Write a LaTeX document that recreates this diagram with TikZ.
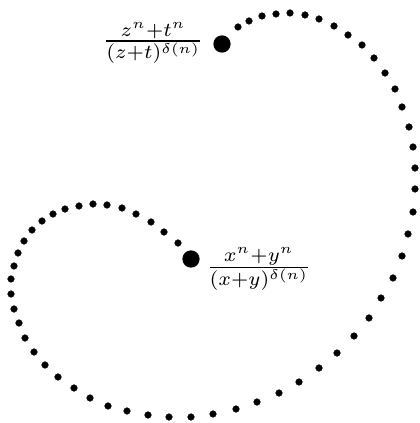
\documentclass[tikz,border=0pt]{standalone}
\begin{document}
\begin{tikzpicture}[x=0.3125pt,y=-0.3125pt,
  bigdot/.style={circle,fill=black,inner sep=0pt,minimum size=5.4pt},
  lbl/.style={inner sep=0pt,scale=0.88,transform shape},
  smalldots/.style={only marks,mark=*,mark size=1.05pt}]
\useasboundingbox (0,0) rectangle (419,423);
\node[bigdot] (a) at (191,259) {};
\node[bigdot] (b) at (222,44) {};
\node[lbl,anchor=base west] (la) at (205.6,274.3) {$\frac{x^n+y^n}{(x+y)^{\delta(n)}}$};
\node[lbl,anchor=base east] (lb) at (204,48) {$\frac{z^n+t^n}{(z+t)^{\delta(n)}}$};
\fill[line width=0.1pt] plot[smalldots] coordinates {
 (a.center) (178,243) (164,232) (151,222) (136,214) (122,208) (107,205) (93,204)
 (79,206) (65,209) (53,214) (42,221) (32,230) (24,241) (18,253) (14,266) (11,279)
 (11,294) (14,309) (19,323) (25,338) (34,352) (45,365) (58,377) (74,388) (90,398)
 (108,406) (127,411) (148,415) (169,417) (191,417) (213,414) (236,409) (257,402)
 (279,393) (299,382) (319,368) (337,353) (354,336) (369,318) (381,298) (393,278)
 (402,256) (408,234) (413,212) (415,189) (415,168) (413,147) (409,127) (402,107)
 (395,89) (385,73) (374,58) (362,45) (348,35) (334,26) (319,19) (305,15) (290,13)
 (276,14) (262,16) (249,21) (238,27) (b.center)};
\end{tikzpicture}
\end{document}
